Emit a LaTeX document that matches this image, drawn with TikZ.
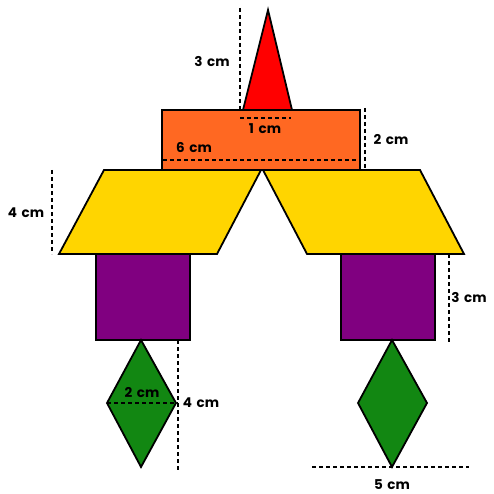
\documentclass[tikz,border=0pt]{standalone}
\usepackage{fontspec}
\setmainfont[WordSpace=1.6]{Poppins}
\definecolor{tipred}{RGB}{255,0,0}
\definecolor{roofor}{RGB}{255,104,34}
\definecolor{wingyel}{RGB}{255,213,0}
\definecolor{boxpur}{RGB}{128,0,128}
\definecolor{gemgrn}{RGB}{18,135,18}
\begin{document}
\begin{tikzpicture}[x=1pt,y=-1pt,
    piece/.style={draw=black,line width=1.8pt,line join=miter},
    measure/.style={draw=black,line width=1.4pt,dash pattern=on 4pt off 3pt},
    lbl/.style={font=\fontsize{13.5}{15}\selectfont\bfseries,inner sep=1pt}]
\useasboundingbox (0,0) rectangle (493,494);
% shapes
\filldraw[piece,fill=tipred] (243,110) -- (268,10) -- (292,110) -- cycle;
\filldraw[piece,fill=roofor] (162,110) rectangle (360,170);
\filldraw[piece,fill=wingyel] (104,170) -- (261,170) -- (217,254) -- (59,254) -- cycle;
\filldraw[piece,fill=wingyel] (263,170) -- (420,170) -- (464,254) -- (307,254) -- cycle;
\filldraw[piece,fill=boxpur] (96,254) rectangle (190,340);
\filldraw[piece,fill=boxpur] (341,254) rectangle (435,340);
\filldraw[piece,fill=gemgrn] (141,340) -- (176,403) -- (141,467) -- (107,403) -- cycle;
\filldraw[piece,fill=gemgrn] (392,340) -- (427,403) -- (392,467) -- (358,403) -- cycle;
% measures
\draw[measure] (240,8) -- (240,110);
\node[lbl] at (212,62) {3 cm};
\draw[measure] (240,118) -- (291,118);
\node[lbl] at (265,129) {1 cm};
\draw[measure] (163,160) -- (359,160);
\node[lbl] at (194,148) {6 cm};
\draw[measure] (365,108) -- (365,170);
\node[lbl] at (391,140) {2 cm};
\draw[measure] (52,170) -- (52,254);
\node[lbl] at (26,213) {4 cm};
\draw[measure] (449,254) -- (449,342);
\node[lbl] at (469,298) {3 cm};
\draw[measure] (107,403) -- (178,403);
\node[lbl] at (142,393) {2 cm};
\draw[measure] (178,340) -- (178,470);
\node[lbl] at (201,403) {4 cm};
\draw[measure] (312,467) -- (469,467);
\node[lbl] at (392,485) {5 cm};
\end{tikzpicture}
\end{document}
